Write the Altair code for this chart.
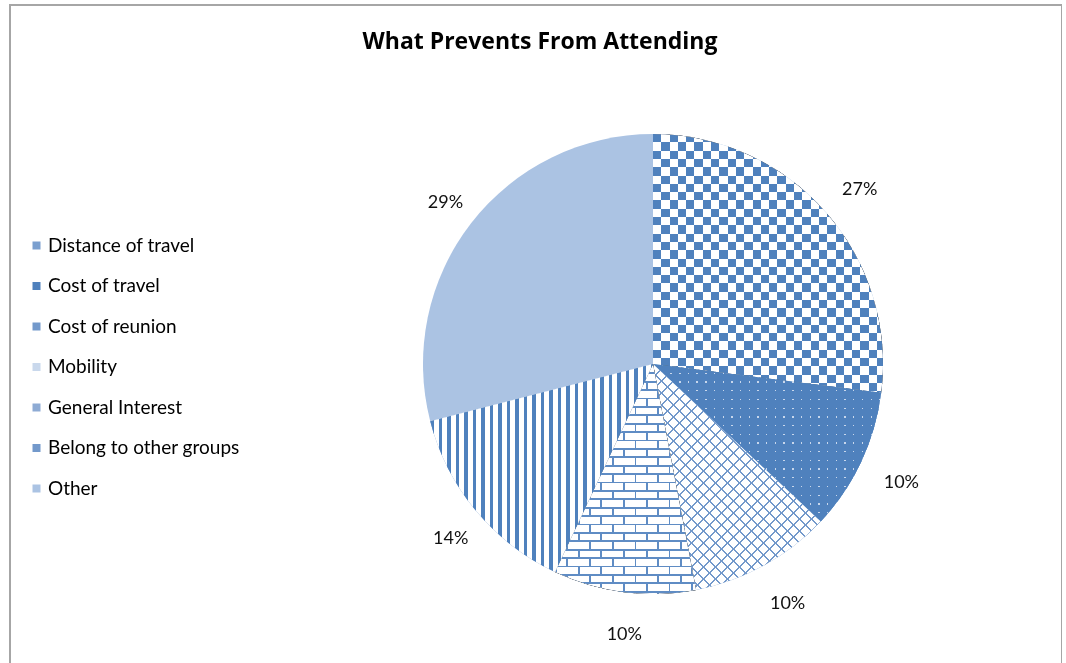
import math
import altair as alt
import pandas as pd

# ---------------- data ----------------
categories = ["Distance of travel", "Cost of travel", "Cost of reunion", "Mobility",
              "General Interest", "Belong to other groups", "Other"]
percent_values = [27, 10, 10, 0, 10, 14, 29]
chart_title = "What Prevents From Attending"

# ---------------- style ----------------
BLUE = "#4F81BD"
legend_colors = ["#7A9FCF", "#4F81BD", "#7399CB", "#C9D8EC", "#8EABD4", "#7399CB", "#ABC3E3"]
CLEAR = "rgba(255,255,255,0)"
FONT = "Lato"
R = 230          # pie radius
LABEL_R = 269    # label radius
CX, CY = 643, 359
LX, LY = CX + 5, CY + 4   # origin used for the percentage labels

df = pd.DataFrame({"category": categories, "value": percent_values,
                   "order": list(range(len(categories)))})

# bounding box of each slice (needed to size pattern gradients in pixels)
def slice_bbox(a0, a1):
    pts = [(0.0, 0.0)]
    for a in [a0, a1] + [k for k in (0, 90, 180, 270, 360) if a0 < k < a1]:
        r = math.radians(a)
        pts.append((R * math.sin(r), -R * math.cos(r)))
    xs = [p[0] for p in pts]
    ys = [p[1] for p in pts]
    return max(max(xs) - min(xs), 1.0), max(max(ys) - min(ys), 1.0)

bbox = {}
acc = 0
for c, v in zip(categories, percent_values):
    a0 = acc * 3.6
    acc += v
    bbox[c] = slice_bbox(a0, acc * 3.6)


def stripe_stops(length, period, on_w, on_col, off_col):
    stops = []
    x = 0.0
    while x < length:
        for o, col in ((x, on_col), (x + on_w, on_col), (x + on_w, off_col), (x + period, off_col)):
            stops.append({"offset": round(min(max(o / length, 0.0), 1.0), 5), "color": col})
        x += period
    return stops


def vgrad(cat, period, on_w, on, off):
    w, h = bbox[cat]
    return {"gradient": "linear", "x1": 0, "y1": 0, "x2": 1, "y2": 0,
            "stops": stripe_stops(w, period, on_w, on, off)}


def hgrad(cat, period, on_w, on, off):
    w, h = bbox[cat]
    return {"gradient": "linear", "x1": 0, "y1": 0, "x2": 0, "y2": 1,
            "stops": stripe_stops(h, period, on_w, on, off)}


def dgrad(cat, perp_period, line_w, on, off, rising=True):
    w, h = bbox[cat]
    D = w + h
    k = D / (w * w + h * h)
    p, q = w * k, h * k
    s2 = math.sqrt(2)
    g = {"gradient": "linear",
         "stops": stripe_stops(D, perp_period * s2, line_w * s2, on, off)}
    if rising:
        g.update({"x1": 0, "y1": 0, "x2": p, "y2": q})
    else:
        g.update({"x1": 0, "y1": 1, "x2": p, "y2": 1 - q})
    return g


theta_scale = alt.Scale(domain=[0, 100])

base = (
    alt.Chart(df)
    .transform_window(cum="sum(value)", sort=[alt.SortField("order")], frame=[None, 0])
    .transform_calculate(start="datum.cum - datum.value",
                         mid="datum.cum - datum.value / 2",
                         label="datum.value + '%'")
)


def arc_layer(cat=None, **mark_kw):
    ch = base
    if cat is not None:
        ch = ch.transform_filter(alt.datum.category == cat)
    return ch.mark_arc(radius=R, **mark_kw).encode(
        theta=alt.Theta("start:Q", scale=theta_scale),
        theta2=alt.Theta2("cum:Q"),
        x=alt.value(CX), y=alt.value(CY),
    )


base_arcs = base.mark_arc(radius=R).encode(
    theta=alt.Theta("start:Q", scale=theta_scale),
    theta2=alt.Theta2("cum:Q"),
    x=alt.value(CX), y=alt.value(CY),
    color=alt.Color(
        "category:N",
        scale=alt.Scale(domain=categories, range=legend_colors),
        legend=alt.Legend(orient="none", legendX=17, legendY=231, title=None,
                          symbolType="square", symbolSize=64, symbolStrokeWidth=0,
                          labelFont=FONT, labelFontSize=19, labelColor="black",
                          labelOffset=2, rowPadding=20.5, padding=0, labelLimit=400),
    ),
)

layers = [base_arcs]
# Distance of travel: coarse checkerboard (XOR of two stripe sets, then tinted)
c = "Distance of travel"
layers += [
    arc_layer(c, fill=vgrad(c, 16.6, 8.3, "white", "black")),
    arc_layer(c, fill=hgrad(c, 16.6, 8.3, "white", "black"), blend="difference"),
    arc_layer(c, fill=BLUE, blend="screen"),
]
# Cost of travel: small dots on solid blue
c = "Cost of travel"
layers += [
    arc_layer(c, fill=vgrad(c, 8.7, 1.4, "#C8D7EC", BLUE)),
    arc_layer(c, fill=hgrad(c, 8.7, 1.4, "#C8D7EC", BLUE), blend="darken"),
]
# Cost of reunion: diagonal cross hatch
c = "Cost of reunion"
layers += [
    arc_layer(c, fill="white"),
    arc_layer(c, fill=dgrad(c, 8.5, 1.7, "#7399CB", CLEAR, True)),
    arc_layer(c, fill=dgrad(c, 8.5, 1.7, "#7399CB", CLEAR, False)),
]
# General Interest: staggered brick
c = "General Interest"
ROW, BRICK, LW = 8.4, 22.7, 1.8
MORTAR = "#5F8CC4"
layers += [
    arc_layer(c, fill=vgrad(c, BRICK / 2, LW, "white", "black")),              # all joints
    arc_layer(c, fill=hgrad(c, 2 * ROW, ROW, "black", "white"), blend="darken"),  # keep odd rows
    arc_layer(c, fill=vgrad(c, BRICK, LW, "white", "black"), blend="difference"),  # swap
    arc_layer(c, fill="white", blend="difference"),                              # invert
    arc_layer(c, fill=MORTAR, blend="screen"),                                   # tint
    arc_layer(c, fill=hgrad(c, ROW, LW, MORTAR, "white"), blend="darken"),       # bed joints
]
# Belong to other groups: vertical stripes
c = "Belong to other groups"
layers += [arc_layer(c, fill=vgrad(c, 8.5, 3.3, BLUE, "white"))]

labels = base.transform_filter(alt.datum.value > 0).mark_text(
    radius=LABEL_R, font=FONT, fontSize=18, color="#111111", align="center", baseline="middle"
).encode(
    theta=alt.Theta("mid:Q", scale=theta_scale),
    text="label:N",
    x=alt.value(LX), y=alt.value(LY),
)
layers.append(labels)

chart = (
    alt.layer(*layers)
    .properties(
        width=1052, height=680,
        autosize=alt.AutoSizeParams(type="none"),
        padding={"left": 10, "top": 5, "right": 0, "bottom": 0},
        background="white",
        title=alt.TitleParams(chart_title, font="Open Sans", fontSize=23, fontWeight="bold",
                              color="black", anchor="middle", offset=-67,
                              baseline="alphabetic", dx=4),
    )
    .configure_view(stroke="#A6A6A6", strokeWidth=2)
)

chart.save("out.html", embed_options={"renderer": "svg", "actions": False})
